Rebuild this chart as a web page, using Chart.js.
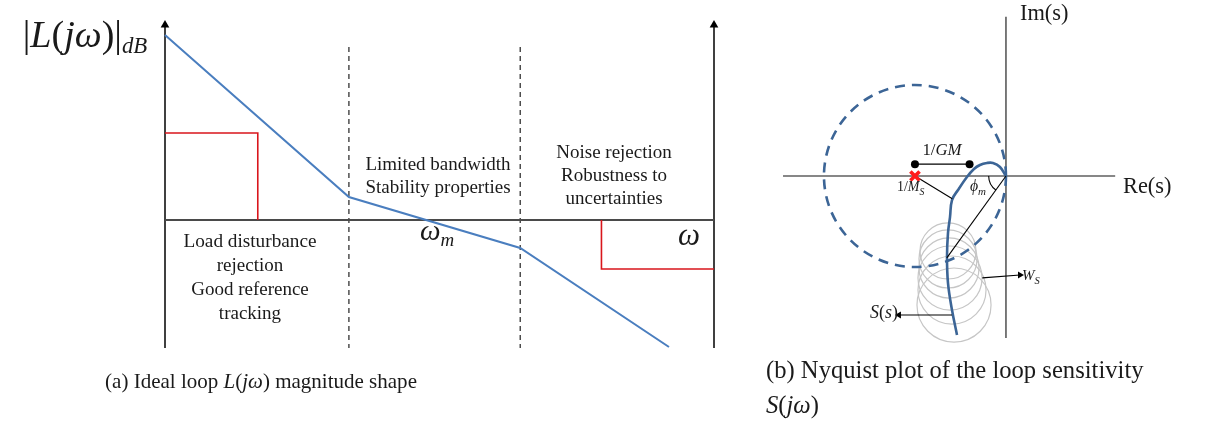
<!DOCTYPE html>
<html><head><meta charset="utf-8">
<script src="https://cdn.jsdelivr.net/npm/chart.js@4.4.1/dist/chart.umd.min.js"></script>
<style>
html,body{margin:0;padding:0;background:#fff;width:1228px;height:425px;overflow:hidden}
#a{position:absolute;left:0;top:0}
#b{position:absolute;left:740px;top:0}
</style></head><body>
<canvas id="a" width="740" height="425"></canvas>
<canvas id="b" width="488" height="425"></canvas>
<script>
// ===== (a) Ideal loop magnitude shape (x: log-frequency units, y: dB units)
const freqRange = [0, 10];
const dbRange = [-12.8, 20];
const loopFreq = [0, 3.35, 6.47, 9.18];
const loopDb = [18.5, 2.3, -2.8, -12.7];
const lowBoundFreq = [0, 1.69, 1.69];
const lowBoundDb = [8.7, 8.7, 0];
const highBoundFreq = [7.95, 7.95, 10];
const highBoundDb = [0, -4.9, -4.9];
const bandEdgeFreq = [3.35, 6.47];
const bandEdgeDbTop = 17.3;
const axisTopDb = 20;

// ===== (b) Nyquist plot (complex plane units)
const reRange = [-2.604, 1.297];
const imRange = [-1.901, 1.802];
const reAxis = [-2.45, 1.2];
const imAxis = [-1.78, 1.75];
const criticalPoint = [-1, 0];
const msCircle = [-1, 0, 1];            // centre re, centre im, radius
const sensRe = [0, -0.066, -0.143, -0.209, -0.286, -0.352, -0.429, -0.527, -0.593, -0.615, -0.637, -0.648, -0.637, -0.593, -0.538];
const sensIm = [0, 0.099, 0.143, 0.143, 0.121, 0.077, -0.011, -0.154, -0.264, -0.451, -0.626, -0.890, -1.176, -1.473, -1.747];
const wsRe = [-0.637, -0.637, -0.626, -0.615, -0.593, -0.571];
const wsIm = [-0.824, -0.912, -1.011, -1.121, -1.253, -1.418];
const wsR = [0.308, 0.319, 0.330, 0.352, 0.374, 0.407];
const gmRe = [-1.0, -0.40];
const gmIm = [0.13, 0.13];
const msLineRe = [-1, -0.59];
const msLineIm = [0, -0.25];
const phaseRe = [0, -0.65];
const phaseIm = [0, -0.90];
const phaseArcR = 0.19;
const wsArrowRe = [-0.26, 0.154];
const wsArrowIm = [-1.12, -1.088];
const sArrowRe = [-0.593, -1.176];
const sArrowIm = [-1.527, -1.527];

// ===== text labels
const labelsA = [
  {x:-1.457, y:17.3, size:34, w:146, parts:[['|',0],['L',1],['(',0],['jω',1],[')',0],['|',0],['dB',1,0.6,0.17]]},
  {x:1.548, y:-2.7, size:19, w:133, parts:[['Load disturbance',0]]},
  {x:1.548, y:-5.1, size:19, parts:[['rejection',0]]},
  {x:1.548, y:-7.5, size:19, parts:[['Good reference',0]]},
  {x:1.548, y:-9.9, size:19, parts:[['tracking',0]]},
  {x:4.973, y:5.0, size:19, parts:[['Limited bandwidth',0]]},
  {x:4.973, y:2.7, size:19, parts:[['Stability properties',0]]},
  {x:8.179, y:6.2, size:19, parts:[['Noise rejection',0]]},
  {x:8.179, y:3.9, size:19, parts:[['Robustness to',0]]},
  {x:8.179, y:1.6, size:19, parts:[['uncertainties',0]]},
  {x:4.645, y:-2.0, align:'left', size:26, w:35, parts:[['ω',1],['m',1,0.65,0.2]]},
  {x:9.344, y:-2.5, align:'left', size:28, w:22, parts:[['ω',1]]},
  {x:1.749, y:-16.8, size:21, w:312, parts:[['(a) Ideal loop ',0],['L',1],['(',0],['jω',1],[')',0],[' magnitude shape',0]]}
];
const labelsB = [
  {x:0.154, y:1.714, align:'left', size:20, w:52, parts:[['Im(s)',0]]},
  {x:1.286, y:-0.187, align:'left', size:20, w:54, parts:[['Re(s)',0]]},
  {x:-0.703, y:0.231, size:15, w:40, parts:[['1/',0],['GM',1]]},
  {x:-1.198, y:-0.165, align:'left', size:14, parts:[['1/',0],['M',1],['S',1,0.7,0.25]]},
  {x:-0.396, y:-0.165, align:'left', size:14, w:20, parts:[['ϕ',1],['m',1,0.7,0.25]]},
  {x:0.176, y:-1.143, align:'left', size:15, parts:[['W',1],['S',1,0.7,0.25]]},
  {x:-1.187, y:-1.56, align:'right', size:16, w:28, parts:[['S',1],['(',0],['s',1],[')',0]]},
  {x:-2.637, y:-2.22, align:'left', size:22, w:444, parts:[['(b) Nyquist plot of the loop sensitivity',0]]},
  {x:-2.637, y:-2.604, align:'left', size:22, w:64, parts:[['S',1],['(',0],['j',1],['ω',1],[')',0]]}
];

const zip = (xs, ys) => xs.map((x, i) => ({x, y: ys[i]}));
const FAM = '"Liberation Serif", "DejaVu Serif", serif';

function fontOf(size, it){ return (it ? 'italic ' : '') + size.toFixed(2) + 'px ' + FAM; }
function drawRich(ctx, lab, px, py){
  const measure = (size) => lab.parts.reduce((s, p) => { ctx.font = fontOf(size * (p[2] || 1), p[1]); return s + ctx.measureText(p[0]).width; }, 0);
  let size = lab.size;
  if (lab.w) { const m = measure(size); size = size * Math.max(0.85, Math.min(1.12, lab.w / m)); }
  const total = measure(size);
  let x = px;
  if (!lab.align || lab.align === 'center') x = px - total / 2;
  else if (lab.align === 'right') x = px - total;
  ctx.fillStyle = '#1a1a1a';
  ctx.textBaseline = 'alphabetic';
  ctx.textAlign = 'left';
  lab.parts.forEach(p => {
    ctx.font = fontOf(size * (p[2] || 1), p[1]);
    ctx.fillText(p[0], x, py + (p[3] || 0) * size);
    x += ctx.measureText(p[0]).width;
  });
}
const textPlugin = {
  id: 'texts',
  afterDraw(chart) {
    const labs = chart.options.plugins.texts.labels;
    const ctx = chart.ctx;
    ctx.save();
    labs.forEach(l => drawRich(ctx, l, chart.scales.x.getPixelForValue(l.x), chart.scales.y.getPixelForValue(l.y)));
    ctx.restore();
  }
};
const dashPlugin = {
  id: 'pointDash',
  beforeDatasetDraw(chart, args) { const d = chart.data.datasets[args.index]; if (d.pointDash) { chart.ctx.save(); chart.ctx.setLineDash(d.pointDash); } },
  afterDatasetDraw(chart, args) { const d = chart.data.datasets[args.index]; if (d.pointDash) chart.ctx.restore(); }
};
const arcPlugin = {
  id: 'phaseArc',
  afterDatasetsDraw(chart) {
    const a = chart.options.plugins.phaseArc;
    if (!a || !a.r) return;
    const sx = chart.scales.x, sy = chart.scales.y;
    const cx = sx.getPixelForValue(a.c[0]), cy = sy.getPixelForValue(a.c[1]);
    const ex = sx.getPixelForValue(a.to[0]), ey = sy.getPixelForValue(a.to[1]);
    const rp = sx.getPixelForValue(a.r) - sx.getPixelForValue(0);
    const ang = Math.atan2(ey - cy, ex - cx);
    const ctx = chart.ctx;
    ctx.save();
    ctx.strokeStyle = '#000'; ctx.lineWidth = 1.1;
    ctx.beginPath(); ctx.arc(cx, cy, rp, ang, Math.PI); ctx.stroke();
    ctx.restore();
  }
};

function line(data, color, width, extra) {
  return Object.assign({data, showLine:true, borderColor:color, borderWidth:width, pointRadius:0, fill:false, tension:0, clip:false}, extra || {});
}
function baseOptions(xr, yr, padding, labels, extraPlugins) {
  return {
    responsive:false, animation:false, events:[], devicePixelRatio:1,
    layout:{padding},
    scales:{
      x:{type:'linear', min:xr[0], max:xr[1], display:false},
      y:{type:'linear', min:yr[0], max:yr[1], display:false}
    },
    plugins:Object.assign({legend:{display:false}, tooltip:{enabled:false}, texts:{labels}}, extraPlugins || {})
  };
}

// ---------- chart (a)
new Chart(document.getElementById('a'), {
  type:'scatter',
  data:{datasets:[
    line(zip(loopFreq, loopDb), '#4a7ebf', 2),
    line(zip(lowBoundFreq, lowBoundDb), '#d9161c', 1.6),
    line(zip(highBoundFreq, highBoundDb), '#d9161c', 1.6),
    line([{x:freqRange[0], y:0}, {x:freqRange[1], y:0}], '#4a4a4a', 2),
    line([{x:bandEdgeFreq[0], y:bandEdgeDbTop}, {x:bandEdgeFreq[0], y:dbRange[0]}], '#222', 1.2, {borderDash:[5,4]}),
    line([{x:bandEdgeFreq[1], y:bandEdgeDbTop}, {x:bandEdgeFreq[1], y:dbRange[0]}], '#222', 1.2, {borderDash:[5,4]}),
    line([{x:freqRange[0], y:dbRange[0]}, {x:freqRange[0], y:axisTopDb - 0.5}], '#000', 1.5, {pointRadius:[0,5], pointStyle:'triangle', pointBackgroundColor:'#000', pointBorderWidth:0}),
    line([{x:freqRange[1], y:dbRange[0]}, {x:freqRange[1], y:axisTopDb - 0.5}], '#000', 1.5, {pointRadius:[0,5], pointStyle:'triangle', pointBackgroundColor:'#000', pointBorderWidth:0})
  ]},
  options: baseOptions(freqRange, dbRange, {left:165, right:26, top:20, bottom:77}, labelsA)
  ,plugins:[textPlugin]
});

// ---------- chart (b)
const unitPx = (chart) => chart.scales.x.getPixelForValue(1) - chart.scales.x.getPixelForValue(0);
const circleData = wsRe.map((x, i) => ({x, y: wsIm[i], r: wsR[i]}));
new Chart(document.getElementById('b'), {
  type:'scatter',
  data:{datasets:[
    {data:[{x:criticalPoint[0], y:criticalPoint[1]}], pointStyle:'crossRot', pointRadius:6.5, pointBorderColor:'#ff1c1c', pointBorderWidth:3.6, clip:false},
    line(zip(gmRe, gmIm), '#000', 1.4, {pointRadius:4, pointBackgroundColor:'#000', pointBorderWidth:0}),
    line(zip(msLineRe, msLineIm), '#000', 1.1),
    line(zip(phaseRe, phaseIm), '#000', 1.1),
    line(zip(wsArrowRe, wsArrowIm), '#000', 1.1, {pointRadius:[0,4], pointStyle:'triangle', pointRotation:[0,90], pointBackgroundColor:'#000', pointBorderWidth:0}),
    line(zip(sArrowRe, sArrowIm), '#000', 1.1, {pointRadius:[0,4], pointStyle:'triangle', pointRotation:[0,-90], pointBackgroundColor:'#000', pointBorderWidth:0}),
    line(zip(sensRe, sensIm), '#3c6596', 2.6, {tension:0.4}),
    {data:[{x:msCircle[0], y:msCircle[1], r:msCircle[2]}], pointDash:[10,7], pointRadius:c => c.raw ? c.raw.r * unitPx(c.chart) : 0,
      pointBackgroundColor:'rgba(0,0,0,0)', pointBorderColor:'#3c6596', pointBorderWidth:2.6, clip:false},
    line([{x:0, y:imAxis[0]}, {x:0, y:imAxis[1]}], '#222', 1.2),
    line([{x:reAxis[0], y:0}, {x:reAxis[1], y:0}], '#111', 1.2),
    {data:circleData, pointRadius:c => c.raw ? c.raw.r * unitPx(c.chart) : 0,
      pointBackgroundColor:'rgba(0,0,0,0)', pointBorderColor:'#c6c6c6', pointBorderWidth:1.2, clip:false}
  ]},
  options: baseOptions(reRange, imRange, {left:29, right:104, top:12, bottom:76}, labelsB,
    {phaseArc:{c:[0,0], to:[phaseRe[1], phaseIm[1]], r:phaseArcR}}),
  plugins:[textPlugin, dashPlugin, arcPlugin]
});
</script>
</body></html>
